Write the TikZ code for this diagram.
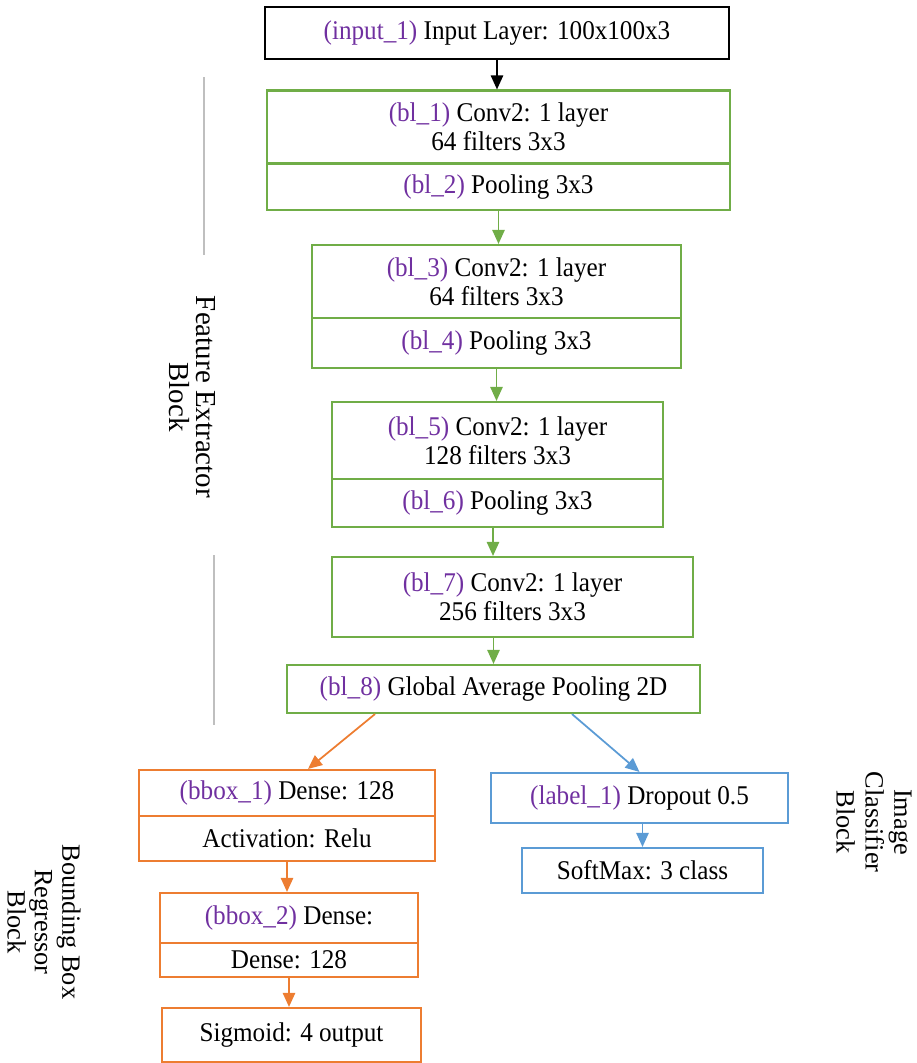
\documentclass[tikz,border=0pt]{standalone}
\usepackage{fontspec}
\setmainfont{Liberation Serif}
\newfontfamily\boxfont{Liberation Serif}[FakeStretch=0.93]
\usetikzlibrary{arrows.meta}
\definecolor{convgreen}{RGB}{112, 173, 71}
\definecolor{bboxorange}{RGB}{237, 125, 49}
\definecolor{clsblue}{RGB}{91, 155, 213}
\definecolor{tagpurple}{RGB}{112, 48, 160}
\definecolor{guidegray}{RGB}{191, 191, 191}
\newcommand{\lname}[1]{\textcolor{tagpurple}{(#1)}}

\begin{document}
\begin{tikzpicture}[x=0.02cm, y=-0.02cm,
  layer/.style={draw, line width=1.2pt, inner sep=0pt, align=center, font=\boxfont\fontsize{15.4}{16.5}\selectfont},
  feat/.style={layer, draw=convgreen},
  reg/.style={layer, draw=bboxorange},
  cls/.style={layer, draw=clsblue},
  flow/.style={line width=1pt, -{Triangle[length=8pt,width=7pt]}},
  side/.style={rotate=-90, align=center, font=\fontsize{15}{15.6}\selectfont}]
\useasboundingbox (0,0) rectangle (917,1063);
% Input
\node[layer, minimum width=9.28cm, minimum height=1.04cm] (input) at (497,33) {\lname{input\_1} Input Layer: 100x100x3};
% Feature extractor
\node[feat, minimum width=9.26cm, minimum height=1.46cm] (bl1) at (498.5,127) {\lname{bl\_1} Conv2: 1 layer\\64 filters 3x3};
\node[feat, minimum width=9.26cm, minimum height=0.92cm] (bl2) at (498.5,187) {\lname{bl\_2} Pooling 3x3};
\node[feat, minimum width=7.38cm, minimum height=1.46cm] (bl3) at (496.5,281.5) {\lname{bl\_3} Conv2: 1 layer\\64 filters 3x3};
\node[feat, minimum width=7.38cm, minimum height=1.0cm] (bl4) at (496.5,343) {\lname{bl\_4} Pooling 3x3};
\node[feat, minimum width=6.62cm, minimum height=1.54cm] (bl5) at (497.5,440.5) {\lname{bl\_5} Conv2: 1 layer\\128 filters 3x3};
\node[feat, minimum width=6.62cm, minimum height=0.96cm] (bl6) at (497.5,503) {\lname{bl\_6} Pooling 3x3};
\node[feat, minimum width=7.22cm, minimum height=1.6cm] (bl7) at (512.5,597) {\lname{bl\_7} Conv2: 1 layer\\256 filters 3x3};
\node[feat, minimum width=8.26cm, minimum height=0.96cm] (bl8) at (493.5,689) {\lname{bl\_8} Global Average Pooling 2D};
% Bounding box regressor
\node[reg, minimum width=5.92cm, minimum height=0.92cm] (bbox1) at (287,793) {\lname{bbox\_1} Dense: 128};
\node[reg, minimum width=5.92cm, minimum height=0.9cm] (act) at (287,838.5) {Activation: Relu};
\node[reg, minimum width=5.16cm, minimum height=1.0cm] (bbox2) at (289,918) {\lname{bbox\_2} Dense:};
\node[reg, minimum width=5.16cm, minimum height=0.68cm] (dense) at (289,960) {Dense: 128};
\node[reg, minimum width=5.18cm, minimum height=1.08cm] (sigmoid) at (291.5,1035) {Sigmoid: 4 output};
% Image classifier
\node[cls, minimum width=5.94cm, minimum height=1.0cm] (label1) at (639.5,798) {\lname{label\_1} Dropout 0.5};
\node[cls, minimum width=4.82cm, minimum height=0.9cm] (softmax) at (642.5,870.5) {SoftMax: 3 class};
% Arrows
\draw[flow] (input.south) -- (input.south |- bl1.north);
\draw[flow, convgreen] (bl2.south) -- (bl2.south |- bl3.north);
\draw[flow, convgreen] (bl4.south) -- (bl4.south |- bl5.north);
\draw[flow, convgreen] ([xshift=-0.09cm]bl6.south) -- ([xshift=-0.09cm]bl6.south |- bl7.north);
\draw[flow, convgreen] (bl7.south -| bl8.north) -- (bl8.north);
\draw[flow, bboxorange] ([xshift=-2.37cm]bl8.south) -- ([xshift=0.42cm]bbox1.north);
\draw[flow, bboxorange] (act.south) -- (act.south |- bbox2.north);
\draw[flow, bboxorange] (dense.south) -- (dense.south |- sigmoid.north);
\draw[flow, clsblue] ([xshift=1.57cm]bl8.south) -- (label1.north);
\draw[flow, clsblue] (softmax.north |- label1.south) -- (softmax.north);
% Block guides and labels
\draw[guidegray, line width=0.6pt] (204,77) -- (204,255);
\draw[guidegray, line width=0.6pt] (214,555) -- (214,725);
\node[side, font=\fontsize{16.5}{15.5}\selectfont] (fe) at (192,397) {Feature Extractor\\Block};
\node[side] (bbr) at (44,922) {Bounding Box\\Regressor\\Block};
\node[side, font=\fontsize{15}{16.4}\selectfont] (icb) at (874,822) {Image\\Classifier\\Block};
\end{tikzpicture}
\end{document}
